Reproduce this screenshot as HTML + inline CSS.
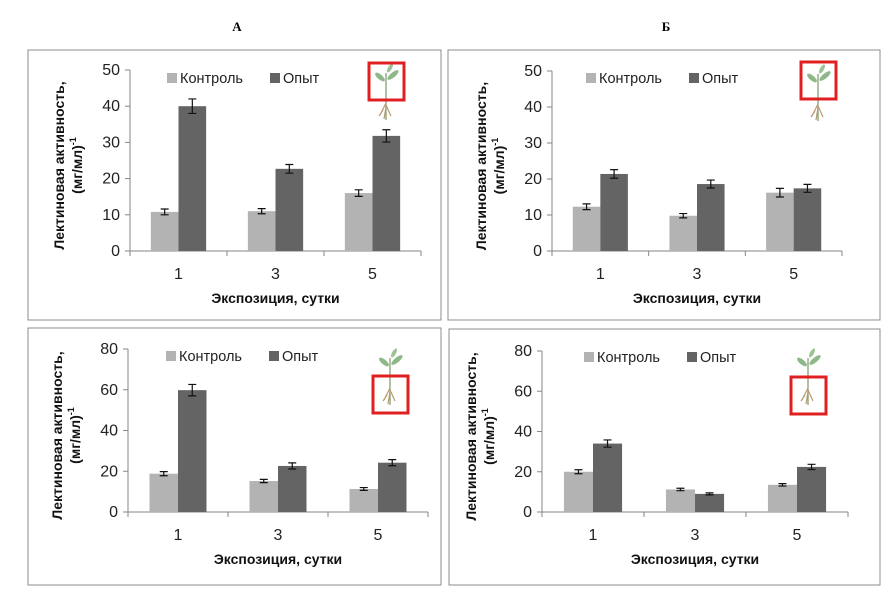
<!DOCTYPE html>
<html><head><meta charset="utf-8">
<style>
body{margin:0;background:#fff;width:891px;height:594px;overflow:hidden;font-family:"Liberation Sans",sans-serif}
svg{position:absolute;left:0;top:0}
</style></head>
<body>
<svg id="c" width="891" height="594"></svg>
<script>
const categories = ["1","3","5"];
const seriesNames = ["Контроль","Опыт"];
const a1Control = [10.8, 11.0, 16.0];
const a1Exp = [40.0, 22.7, 31.8];
const a1ControlErr = [0.8, 0.7, 0.9];
const a1ExpErr = [2.0, 1.2, 1.7];
const b1Control = [12.3, 9.8, 16.2];
const b1Exp = [21.4, 18.6, 17.4];
const b1ControlErr = [0.8, 0.6, 1.2];
const b1ExpErr = [1.2, 1.1, 1.1];
const a2Control = [18.8, 15.2, 11.3];
const a2Exp = [59.8, 22.6, 24.2];
const a2ControlErr = [1.0, 0.8, 0.7];
const a2ExpErr = [2.8, 1.5, 1.5];
const b2Control = [20.0, 11.2, 13.5];
const b2Exp = [34.0, 9.0, 22.4];
const b2ControlErr = [1.0, 0.6, 0.6];
const b2ExpErr = [1.8, 0.5, 1.3];
const ticks50 = [0,10,20,30,40,50];
const ticks80 = [0,20,40,60,80];

const NS="http://www.w3.org/2000/svg";
const svg=document.getElementById('c');
function mk(tag,attrs,parent){const e=document.createElementNS(NS,tag);for(const k in attrs)e.setAttribute(k,attrs[k]);(parent||svg).appendChild(e);return e;}

function title(txt,x,nm){const t=mk('text',{x:x,y:31,'text-anchor':'middle','font-family':'Liberation Serif, serif','font-weight':'bold','font-size':13});t.textContent=txt;

}
title('А',237,'panel-a-title');title('Б',666,'panel-b-title');

function plant(g,x,y,boxY){
  const p=mk('g',{},g);
  
  
  mk('path',{d:`M${x} ${y+55} L${x} ${y+8}`,stroke:'#7a9a6a','stroke-width':1.2,fill:'none'},p);
  mk('ellipse',{cx:x-6,cy:y+12,rx:6,ry:2.5,fill:'#8fb889',transform:`rotate(40 ${x-6} ${y+12})`},p);
  mk('ellipse',{cx:x+7,cy:y+10,rx:7,ry:2.5,fill:'#8fb889',transform:`rotate(-40 ${x+7} ${y+10})`},p);
  mk('ellipse',{cx:x+4,cy:y+3,rx:5,ry:2,fill:'#9cc493',transform:`rotate(-60 ${x+4} ${y+3})`},p);
  mk('path',{d:`M${x} ${y+38} l-6 12 M${x} ${y+40} l5 11 M${x} ${y+42} l-2 12 M${x-3} ${y+45} l-4 6`,stroke:'#b89a70','stroke-width':1.2,fill:'none'},p);
  const r=mk('rect',{x:x-17,y:boxY,width:35,height:37,fill:'none',stroke:'#e02020','stroke-width':3},g);
  
  
}

function panel(cfg){
  const g=mk('g',{});
  
  
  const fr=mk('rect',{x:cfg.bx,y:cfg.by,width:cfg.bw,height:cfg.bh,fill:'#fff',stroke:'#8c8c8c','stroke-width':1},g);
  
  
  const ymax=cfg.ticks[cfg.ticks.length-1];
  const Y=v=>cfg.y0-(v/ymax)*(cfg.y0-cfg.yTop);
  const cw=(cfg.x1-cfg.x0)/categories.length;
  const X=i=>cfg.x0+cw*(i+0.5);
  const bw=cw*0.285;
  const ya=mk('line',{x1:cfg.x0,y1:cfg.yTop,x2:cfg.x0,y2:cfg.y0,stroke:'#868686'},g);
  
  const xa=mk('line',{x1:cfg.x0,y1:cfg.y0,x2:cfg.x1,y2:cfg.y0,stroke:'#868686'},g);
  
  cfg.ticks.forEach(t=>{
    mk('line',{x1:cfg.x0-5,y1:Y(t),x2:cfg.x0,y2:Y(t),stroke:'#868686'},g);
    const tl=mk('text',{x:cfg.x0-10,y:Y(t)+5,'text-anchor':'end','font-size':16,fill:'#222'},g);tl.textContent=t;
    
    
  });
  for(let i=0;i<=categories.length;i++) mk('line',{x1:cfg.x0+cw*i,y1:cfg.y0,x2:cfg.x0+cw*i,y2:cfg.y0+5,stroke:'#868686'},g);
  categories.forEach((c,i)=>{
    const tl=mk('text',{x:X(i),y:cfg.y0+28,'text-anchor':'middle','font-size':16,fill:'#222'},g);tl.textContent=c;
    
    
  });
  const sets=[[cfg.ctrl,cfg.ctrlErr,'#b3b3b3',-1],[cfg.exp,cfg.expErr,'#646464',0]];
  sets.forEach((s,si)=>{
    s[0].forEach((v,i)=>{
      const x=X(i)+s[3]*bw;
      const b=mk('rect',{x:x,y:Y(v),width:bw,height:cfg.y0-Y(v),fill:s[2]},g);
      
      
      const cx=x+bw/2,e=s[1][i];
      const eb=mk('path',{d:`M${cx} ${Y(v+e)} V${Y(v-e)} M${cx-4} ${Y(v+e)} H${cx+4} M${cx-4} ${Y(v-e)} H${cx+4}`,stroke:'#111','stroke-width':1.2,fill:'none'},g);
      
      
    });
  });
  const lg=mk('g',{},g);
  
  
  [[cfg.lx,'#b3b3b3'],[cfg.lx+103,'#646464']].forEach((l,i)=>{
    mk('rect',{x:l[0],y:cfg.ly-10,width:10,height:10,fill:l[1]},lg);
    const t=mk('text',{x:l[0]+13,y:cfg.ly,'font-size':14.5,fill:'#222'},lg);t.textContent=seriesNames[i];
    
    
  });
  const yc=(cfg.yTop+cfg.y0)/2+5;
  const yt=mk('text',{transform:`translate(${cfg.x0-66},${yc}) rotate(-90)`,'text-anchor':'middle','font-size':14,'font-weight':'bold',fill:'#111'},g);
  
  
  const t1=mk('tspan',{x:0,dy:0},yt);t1.textContent='Лектиновая активность,';
  const t2=mk('tspan',{x:0,dy:18},yt);t2.textContent='(мг/мл)';
  const t3=mk('tspan',{dy:-6,'font-size':9},yt);t3.textContent='-1';
  const xt=mk('text',{x:(cfg.x0+cfg.x1)/2,y:cfg.y0+52,'text-anchor':'middle','font-size':14,'font-weight':'bold',fill:'#111'},g);
  xt.textContent='Экспозиция, сутки';
  
  
  plant(g,cfg.px,cfg.py,cfg.boxY);
}

panel({name:'panel-a-top',bx:28,by:50,bw:413,bh:270,x0:130,x1:421,y0:251,yTop:70,ticks:ticks50,ctrl:a1Control,exp:a1Exp,ctrlErr:a1ControlErr,expErr:a1ExpErr,lx:167,ly:83,px:386,py:65,boxY:63});
panel({name:'panel-b-top',bx:448,by:50,bw:432,bh:270,x0:552,x1:842,y0:251,yTop:71,ticks:ticks50,ctrl:b1Control,exp:b1Exp,ctrlErr:b1ControlErr,expErr:b1ExpErr,lx:586,ly:83,px:818,py:66,boxY:62});
panel({name:'panel-a-bottom',bx:28,by:328,bw:413,bh:257,x0:128,x1:428,y0:512,yTop:349,ticks:ticks80,ctrl:a2Control,exp:a2Exp,ctrlErr:a2ControlErr,expErr:a2ExpErr,lx:166,ly:361,px:390,py:350,boxY:376});
panel({name:'panel-b-bottom',bx:449,by:329,bw:431,bh:256,x0:542,x1:848,y0:512,yTop:351,ticks:ticks80,ctrl:b2Control,exp:b2Exp,ctrlErr:b2ControlErr,expErr:b2ExpErr,lx:584,ly:362,px:808,py:350,boxY:377});
</script>
</body></html>
